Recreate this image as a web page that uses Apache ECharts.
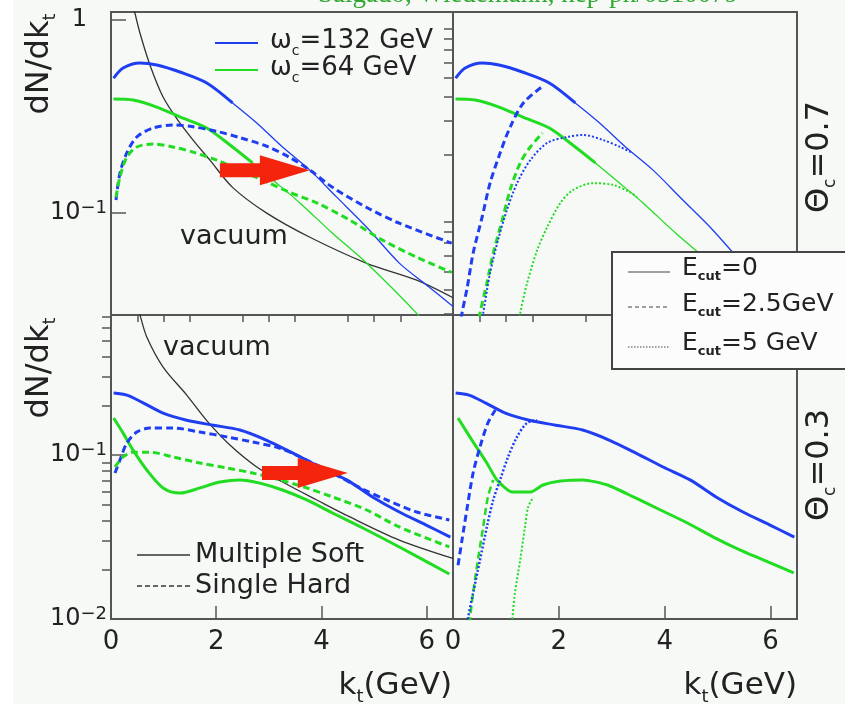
<!DOCTYPE html>
<html>
<head>
<meta charset="utf-8">
<script src="https://cdn.jsdelivr.net/npm/echarts@6/dist/echarts.min.js"></script>
<style>
html,body{margin:0;padding:0;background:#f7f9f7;}
#chart{width:845px;height:704px;}
</style>
</head>
<body>
<div id="chart"></div>
<script>
// ---- tick values ----
const ktTicksMajor = [0, 2, 4, 6];
const ktTicksMinor = [0.5, 1, 1.5, 2.5, 3, 3.5, 4.5, 5, 5.5];
const yTicksTop = [0.1, 1];
const yTicksBottom = [0.01, 0.1];
const yMinorTop = [0.03, 0.04, 0.05, 0.06, 0.07, 0.08, 0.09, 0.2, 0.3, 0.4, 0.5, 0.6, 0.7, 0.8, 0.9];
const yMinorBottom = [0.02, 0.03, 0.04, 0.05, 0.06, 0.07, 0.08, 0.09, 0.2, 0.3, 0.4, 0.5, 0.6, 0.7];

// ---- Theta_c = 0.7 ----
const ktVac07 = [0.40, 0.45, 0.55, 0.74, 0.99, 1.27, 1.56, 1.88, 2.31, 2.96, 3.78, 4.86, 5.81, 6.5];
const vac07 = [1.25, 1.10, 0.856, 0.585, 0.399, 0.303, 0.239, 0.188, 0.136, 0.100, 0.075, 0.055, 0.045, 0.0365];

const ktSoft132_07 = [0.05, 0.23, 0.55, 0.87, 1.31, 1.82, 2.31, 2.77, 3.26, 3.78, 4.29, 4.86, 5.48, 6.0, 6.5];
const soft132_07 = [0.50, 0.564, 0.599, 0.585, 0.538, 0.472, 0.372, 0.293, 0.220, 0.167, 0.121, 0.0846, 0.0551, 0.0424, 0.0329];

const ktSoft64_07 = [0.05, 0.42, 0.87, 1.31, 1.82, 2.31, 2.69, 3.15, 3.59, 4.21, 4.86, 5.81, 6.1];
const soft64_07 = [0.390, 0.385, 0.354, 0.315, 0.276, 0.220, 0.182, 0.143, 0.113, 0.0787, 0.0551, 0.0303, 0.024];

const ktHard132_07 = [0.095, 0.17, 0.30, 0.49, 0.80, 1.18, 1.56, 2.01, 2.45, 2.96, 3.40, 3.78, 4.21, 4.86, 5.48, 6.47];
const hard132_07 = [0.117, 0.161, 0.205, 0.248, 0.276, 0.286, 0.280, 0.265, 0.246, 0.222, 0.194, 0.167, 0.136, 0.107, 0.0887, 0.070];

const ktHard64_07 = [0.095, 0.17, 0.30, 0.49, 0.80, 1.18, 1.56, 2.01, 2.45, 2.96, 3.40, 3.91, 4.54, 5.16, 5.81, 6.47];
const hard64_07 = [0.121, 0.154, 0.195, 0.220, 0.228, 0.220, 0.207, 0.188, 0.167, 0.145, 0.128, 0.113, 0.092, 0.0725, 0.0592, 0.0494];

const ktCut25_132_07 = [0.13, 0.17, 0.27, 0.38, 0.55, 0.70, 0.89, 1.08, 1.33, 1.70];
const cut25_132_07 = [0.025, 0.0303, 0.0414, 0.0620, 0.0953, 0.143, 0.205, 0.279, 0.372, 0.455];

const ktCut25_64_07 = [0.47, 0.51, 0.64, 0.76, 0.93, 1.08, 1.27, 1.46, 1.69];
const cut25_64_07 = [0.025, 0.0303, 0.0434, 0.0620, 0.092, 0.132, 0.182, 0.220, 0.260];

const ktCut5_132_07 = [0.52, 0.57, 0.70, 0.85, 1.02, 1.21, 1.46, 1.78, 2.16, 2.46, 2.84, 3.16, 3.39];
const cut5_132_07 = [0.025, 0.0303, 0.0489, 0.0725, 0.104, 0.143, 0.188, 0.231, 0.248, 0.254, 0.239, 0.220, 0.205];

const ktCut5_64_07 = [1.24, 1.27, 1.40, 1.59, 1.78, 2.03, 2.27, 2.65, 3.03, 3.35, 3.48];
const cut5_64_07 = [0.025, 0.0303, 0.0434, 0.0643, 0.0846, 0.113, 0.132, 0.143, 0.140, 0.128, 0.121];

// ---- Theta_c = 0.3 ----
const ktVac03 = [0.48, 0.55, 0.68, 0.99, 1.44, 1.82, 2.26, 2.77, 3.26, 3.91, 4.54, 5.48, 6.5];
const vac03 = [0.85, 0.715, 0.525, 0.344, 0.232, 0.162, 0.115, 0.0845, 0.0684, 0.0532, 0.0419, 0.0303, 0.0234];

const ktSoft132_03 = [0.05, 0.30, 0.61, 0.99, 1.44, 1.94, 2.45, 2.96, 3.45, 3.97, 4.48, 4.97, 5.48, 5.99, 6.45];
const soft132_03 = [0.239, 0.232, 0.208, 0.180, 0.163, 0.152, 0.142, 0.123, 0.103, 0.0845, 0.0705, 0.0555, 0.0449, 0.0374, 0.0316];

const ktSoft64_03 = [0.05, 0.23, 0.42, 0.68, 0.99, 1.31, 1.69, 2.07, 2.45, 2.83, 3.26, 3.72, 4.21, 4.86, 5.48, 6.43];
const soft64_03 = [0.168, 0.136, 0.107, 0.081, 0.063, 0.0586, 0.063, 0.0684, 0.0705, 0.0674, 0.0612, 0.0532, 0.0443, 0.0349, 0.0275, 0.0188];

const ktCut0_64_03 = [0.095, 0.38, 0.64, 0.83, 1.12, 1.46, 1.70, 2.03, 2.46, 2.92, 3.41, 3.92, 4.43, 4.92, 5.43, 5.95, 6.44];
const cut0_64_03 = [0.168, 0.120, 0.0894, 0.0705, 0.0594, 0.0594, 0.0656, 0.0694, 0.0705, 0.0656, 0.0555, 0.0462, 0.0385, 0.0316, 0.0263, 0.0223, 0.0191];

const ktHard132_03 = [0.076, 0.17, 0.30, 0.49, 0.74, 1.18, 1.69, 2.20, 2.69, 3.21, 3.72, 4.21, 4.74, 5.24, 5.81, 6.43];
const hard132_03 = [0.0777, 0.0932, 0.118, 0.138, 0.146, 0.146, 0.138, 0.129, 0.120, 0.110, 0.0932, 0.0777, 0.063, 0.0532, 0.0449, 0.0402];

const ktHard64_03 = [0.076, 0.23, 0.42, 0.74, 1.18, 1.69, 2.20, 2.69, 3.21, 3.72, 4.21, 4.86, 5.48, 6.43];
const hard64_03 = [0.0845, 0.0973, 0.104, 0.104, 0.0973, 0.0894, 0.0834, 0.0777, 0.0705, 0.063, 0.0555, 0.0462, 0.0364, 0.0275];

const ktCut25_132_03 = [0.095, 0.17, 0.27, 0.38, 0.51, 0.66, 0.80];
const cut25_132_03 = [0.0213, 0.0303, 0.0482, 0.0777, 0.112, 0.157, 0.188];

const ktCut5_132_03 = [0.26, 0.28, 0.38, 0.51, 0.64, 0.76, 0.89, 1.04, 1.21, 1.40, 1.59];
const cut5_132_03 = [0.008, 0.0099, 0.0144, 0.0229, 0.0364, 0.0532, 0.0705, 0.0973, 0.129, 0.157, 0.163];

const ktCut25_64_03 = [0.30, 0.32, 0.38, 0.47, 0.57, 0.66, 0.76];
const cut25_64_03 = [0.008, 0.0099, 0.0144, 0.0229, 0.0364, 0.0555, 0.0705];

const ktCut5_64_03 = [1.10, 1.12, 1.17, 1.27, 1.36, 1.42, 1.52];
const cut5_64_03 = [0.008, 0.0099, 0.0144, 0.0229, 0.0364, 0.0482, 0.0555];

// arrows: [from kt, to kt, dN/dkt]
const arrowTop = [[2.07, 3.78, 0.167]];
const arrowBottom = [[2.87, 4.50, 0.0777]];

// ---- styling ----
const FONT = '"DejaVu Sans", sans-serif';
const INK = '#222';
const FRAME = '#555';
const BLUE = '#1f3ef2';
const GREEN = '#22dc22';
const BLACK = '#333';
const DASH = [7, 4];
const DOT = [2, 2];

function pairs(kt, vals, upto) {
  const out = [];
  for (let i = 0; i < kt.length; i++) {
    if (upto === undefined || kt[i] <= upto) out.push([kt[i], vals[i]]);
  }
  return out;
}
function curve(g, kt, vals, color, width, type, upto, smooth) {
  return {
    type: 'line', xAxisIndex: g, yAxisIndex: g,
    data: pairs(kt, vals, upto),
    symbol: 'none', showSymbol: false, silent: true,
    smooth: smooth === undefined ? 0.3 : smooth,
    clip: true, z: 3,
    lineStyle: { color: color, width: width, type: type || 'solid', cap: 'butt', join: 'round' }
  };
}
function arrowSeries(g, data) {
  return {
    type: 'custom', xAxisIndex: g, yAxisIndex: g, z: 6, silent: true,
    data: data,
    encode: { x: [0, 1], y: 2 },
    renderItem: function (params, api) {
      const a = api.coord([api.value(0), api.value(2)]);
      const b = api.coord([api.value(1), api.value(2)]);
      const headLen = 50, body = 7, head = 15;
      const hx = b[0] - headLen, y = b[1];
      return {
        type: 'polygon',
        shape: { points: [[a[0], y - body], [hx, y - body], [hx, y - head], [b[0], y], [hx, y + head], [hx, y + body], [a[0], y + body]] },
        style: { fill: '#f5250d' }
      };
    }
  };
}

const series = [
  // Θc = 0.7, ωc comparison
  curve(0, ktVac07, vac07, BLACK, 1.3),
  curve(0, ktSoft132_07, soft132_07, BLUE, 1.3),
  curve(0, ktSoft132_07, soft132_07, BLUE, 3, 'solid', 2.31),
  curve(0, ktSoft64_07, soft64_07, GREEN, 1.3),
  curve(0, ktSoft64_07, soft64_07, GREEN, 3, 'solid', 2.69),
  curve(0, ktHard132_07, hard132_07, BLUE, 3, DASH),
  curve(0, ktHard64_07, hard64_07, GREEN, 3, DASH),
  arrowSeries(0, arrowTop),
  // Θc = 0.7, Ecut comparison
  curve(1, ktSoft132_07, soft132_07, BLUE, 1.3),
  curve(1, ktSoft132_07, soft132_07, BLUE, 3, 'solid', 2.31),
  curve(1, ktSoft64_07, soft64_07, GREEN, 1.3),
  curve(1, ktSoft64_07, soft64_07, GREEN, 3, 'solid', 2.69),
  curve(1, ktCut25_132_07, cut25_132_07, BLUE, 3, DASH),
  curve(1, ktCut25_64_07, cut25_64_07, GREEN, 3, DASH),
  curve(1, ktCut5_132_07, cut5_132_07, BLUE, 2, DOT),
  curve(1, ktCut5_64_07, cut5_64_07, GREEN, 2, DOT),
  // Θc = 0.3, ωc comparison
  curve(2, ktVac03, vac03, BLACK, 1.3),
  curve(2, ktSoft132_03, soft132_03, BLUE, 3),
  curve(2, ktSoft64_03, soft64_03, GREEN, 3),
  curve(2, ktHard132_03, hard132_03, BLUE, 3, DASH),
  curve(2, ktHard64_03, hard64_03, GREEN, 3, DASH),
  arrowSeries(2, arrowBottom),
  // Θc = 0.3, Ecut comparison
  curve(3, ktSoft132_03, soft132_03, BLUE, 3),
  curve(3, ktCut0_64_03, cut0_64_03, GREEN, 3, 'solid', undefined, 0.2),
  curve(3, ktCut25_132_03, cut25_132_03, BLUE, 3, DASH),
  curve(3, ktCut25_64_03, cut25_64_03, GREEN, 2.5, DASH),
  curve(3, ktCut5_132_03, cut5_132_03, BLUE, 2.5, DOT),
  curve(3, ktCut5_64_03, cut5_64_03, GREEN, 2, DOT)
];

// ---- axes ----
const grids = [
  { left: 111, top: 12, width: 342, height: 303 },
  { left: 453, top: 12, width: 344, height: 303 },
  { left: 111, top: 315, width: 342, height: 304 },
  { left: 453, top: 315, width: 344, height: 304 }
].map(g => Object.assign(g, { show: true, borderColor: FRAME, borderWidth: 2, backgroundColor: 'transparent', containLabel: false }));

const yRange = [[0.0297, 1.1], [0.0297, 1.1], [0.01, 0.714], [0.01, 0.714]];

function powLabel(v) {
  const e = Math.round(Math.log10(v));
  if (e === 0) return '{b|1}{pad| }';
  return '{b|10}{s|\u2212' + (-e) + '}';
}
const labelRich = {
  b: { fontSize: 24, fontFamily: FONT, color: INK, lineHeight: 28 },
  s: { fontSize: 18, fontFamily: FONT, color: INK, lineHeight: 18, verticalAlign: 'top', padding: [0, 0, 30, 0] },
  pad: { width: 20, fontSize: 10 }
};

const xAxis = [];
for (let g = 0; g < 4; g++) {
  const bottom = g >= 2;
  xAxis.push({
    type: 'value', gridIndex: g, min: 0, max: 6.5,
    axisLine: { show: false }, splitLine: { show: false },
    axisTick: bottom ? { show: true, inside: true, length: 13, customValues: ktTicksMajor, lineStyle: { color: FRAME, width: 1.5 } } : { show: false },
    axisLabel: bottom ? { show: true, customValues: ktTicksMajor, fontSize: 26, fontFamily: FONT, color: INK, margin: 10 } : { show: false }
  });
}
for (const g of [2, 3]) {
  xAxis.push({
    type: 'value', gridIndex: g, min: 0, max: 6.5,
    axisLine: { show: false }, splitLine: { show: false }, axisLabel: { show: false },
    axisTick: { show: true, inside: true, length: 7, customValues: ktTicksMinor, lineStyle: { color: FRAME, width: 1.5 } }
  });
}

const yAxis = [];
for (let g = 0; g < 4; g++) {
  const left = g === 0 || g === 2;
  const ticks = g < 2 ? yTicksTop : yTicksBottom;
  yAxis.push({
    type: 'log', logBase: 10, gridIndex: g, min: yRange[g][0], max: yRange[g][1],
    axisLine: { show: false }, splitLine: { show: false },
    axisTick: left ? { show: true, inside: true, length: 15, customValues: ticks, lineStyle: { color: FRAME, width: 1.5 } } : { show: false },
    axisLabel: left ? { show: true, customValues: ticks, formatter: powLabel, rich: labelRich, margin: 4 } : { show: false }
  });
}
for (const g of [0, 2]) {
  yAxis.push({
    type: 'log', logBase: 10, gridIndex: g, min: yRange[g][0], max: yRange[g][1],
    axisLine: { show: false }, splitLine: { show: false }, axisLabel: { show: false },
    axisTick: { show: true, inside: true, length: 9, customValues: g === 0 ? yMinorTop : yMinorBottom, lineStyle: { color: FRAME, width: 1.5 } }
  });
}

// ---- annotations ----
function sub(size, pad, weight) {
  return { fontSize: size, fontFamily: FONT, fill: INK, color: INK, fontWeight: weight || 'normal', lineHeight: size, verticalAlign: 'top', padding: [pad, 0, 0, 0] };
}
function base(size) {
  return { fontSize: size, fontFamily: FONT, fill: INK, color: INK, lineHeight: Math.round(size * 1.15), verticalAlign: 'top' };
}
function text(id, str, x, y, size, opt) {
  opt = opt || {};
  return {
    type: 'text', id: id, x: x, y: y, rotation: opt.rotation || 0, z: opt.z || 20, silent: true,
    style: {
      text: str, fill: opt.fill || INK, fontSize: size, fontFamily: opt.family || FONT,
      align: opt.align || 'left', textAlign: opt.align || 'left',
      verticalAlign: opt.valign || 'middle', textVerticalAlign: opt.valign || 'middle',
      rich: opt.rich
    }
  };
}
function seg(id, x1, x2, y, color, width, dash, z) {
  return {
    type: 'line', id: id, z: z || 20, silent: true,
    shape: { x1: x1, y1: y, x2: x2, y2: y },
    style: { stroke: color, lineWidth: width, lineDash: dash || null }
  };
}

const richOmega = { b: base(26), c: sub(14, 16) };
const richEcut = { b: base(25), c: sub(13, 15, 'bold') };
const richKt = { b: base(31), t: sub(18, 18) };
const richDN = { b: base(32), t: sub(18, 18) };
const richTheta = { b: base(32), c: sub(17, 19) };

const graphic = [
  { type: 'rect', id: 'margin', z: -1, silent: true, shape: { x: 0, y: 0, width: 13, height: 704 }, style: { fill: '#ffffff' } },
  text('ref', 'Salgado, Wiedemann, hep-ph/0310079', 318, 8, 27, { valign: 'bottom', fill: '#30a830', family: '"Liberation Serif", serif' }),

  text('ylab1', '{b|dN/dk}{t|t}', 42, 64, 32, { align: 'center', rotation: Math.PI / 2, rich: richDN }),
  text('ylab2', '{b|dN/dk}{t|t}', 42, 368, 32, { align: 'center', rotation: Math.PI / 2, rich: richDN }),
  text('xlab1', '{b|k}{t|t}{b|(GeV)}', 452, 688, 31, { align: 'right', rich: richKt }),
  text('xlab2', '{b|k}{t|t}{b|(GeV)}', 797, 688, 31, { align: 'right', rich: richKt }),
  text('theta1', '{b|\u0398}{c|c}{b|=0.7}', 822, 157, 32, { align: 'center', rotation: Math.PI / 2, rich: richTheta }),
  text('theta2', '{b|\u0398}{c|c}{b|=0.3}', 822, 465, 32, { align: 'center', rotation: Math.PI / 2, rich: richTheta }),

  seg('lw1', 215, 258, 43, BLUE, 1.8),
  text('tw1', '{b|\u03c9}{c|c}{b|=132 GeV}', 270, 43, 26, { rich: richOmega }),
  seg('lw2', 215, 258, 70, GREEN, 1.8),
  text('tw2', '{b|\u03c9}{c|c}{b|=64 GeV}', 270, 70, 26, { rich: richOmega }),

  text('vac1', 'vacuum', 180, 237, 27),
  text('vac2', 'vacuum', 163, 348, 27),

  seg('lms', 137, 190, 555, BLACK, 1.5),
  text('tms', 'Multiple Soft', 195, 555, 27),
  seg('lsh', 137, 190, 586, BLACK, 1.5, [5, 3]),
  text('tsh', 'Single Hard', 195, 586, 27),

  { type: 'rect', id: 'ebox', z: 30, silent: true, shape: { x: 612, y: 252, width: 250, height: 117 }, style: { fill: '#fcfcfc', stroke: '#444', lineWidth: 2 } },
  seg('le0', 628, 670, 272, '#444', 1.2, null, 31),
  text('te0', '{b|E}{c|cut}{b|=0}', 682, 270, 25, { rich: richEcut, z: 31 }),
  seg('le1', 628, 670, 307, '#444', 1.2, [4, 3], 31),
  text('te1', '{b|E}{c|cut}{b|=2.5GeV}', 682, 306, 25, { rich: richEcut, z: 31 }),
  seg('le2', 628, 670, 347, '#444', 1.2, [1.5, 1.5], 31),
  text('te2', '{b|E}{c|cut}{b|=5 GeV}', 682, 345, 25, { rich: richEcut, z: 31 })
];

const chart = echarts.init(document.getElementById('chart'), null, { renderer: 'canvas' });
chart.setOption({
  animation: false,
  backgroundColor: '#f7f9f7',
  grid: grids,
  xAxis: xAxis,
  yAxis: yAxis,
  series: series,
  graphic: graphic
});
</script>
</body>
</html>
